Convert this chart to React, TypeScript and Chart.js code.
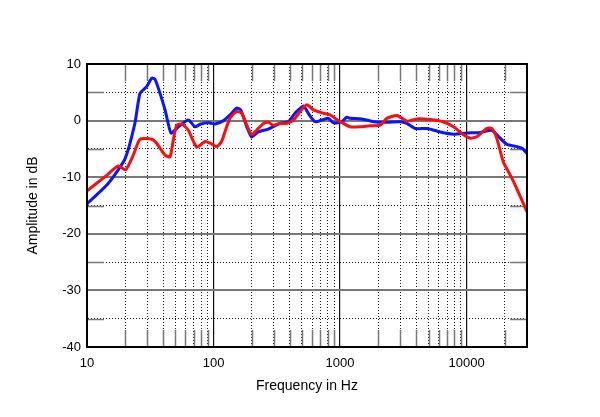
import React, { useEffect, useRef } from 'react';
import { Chart, registerables } from 'chart.js';

Chart.register(...registerables);

// Red curve (frequency in Hz, amplitude in dB)
const redFreq = [10, 13.9, 17.7, 20.2, 23.2, 26.2, 32.5, 35.5, 41.4, 45.3, 48.1, 51.2, 56.1, 63.2, 73.6, 85.7, 94, 106, 115.7, 123, 135, 152, 167, 183, 200, 219, 248, 271, 297, 335, 378, 428, 483, 546, 615, 738, 834, 940, 1065, 1200, 1440, 1720, 2080, 2340, 2810, 3370, 4040, 5140, 6520, 7880, 9460, 10700, 12100, 14400, 15800, 17300, 19500, 22100, 24900, 30000];
const redDb = [-12.4, -9.9, -8.0, -8.7, -6.1, -3.3, -3.3, -4.0, -6.1, -6.4, -3.4, -0.8, -0.6, -1.7, -4.7, -3.7, -4.0, -4.6, -3.7, -2.0, 0.4, 1.6, 1.3, -0.8, -2.5, -1.7, -0.5, -0.3, -0.8, -0.5, -0.5, 0.1, 1.6, 2.8, 1.9, 1.3, 1.0, 0.2, -0.5, -1.1, -1.1, -0.9, -0.8, 0.4, 0.9, -0.1, 0.3, 0.2, -0.2, -1.1, -2.5, -3.1, -2.8, -1.4, -1.4, -3.1, -7.3, -9.6, -12.0, -16.1];

// Blue curve
const blueFreq = [10, 14.7, 20, 23.9, 26.2, 29.6, 32.5, 34.5, 41.4, 46.1, 52.7, 63.2, 71.4, 78.3, 91, 103, 120, 135, 152, 164, 183, 200, 226, 271, 335, 390, 440, 513, 560, 634, 738, 809, 887, 1032, 1130, 1200, 1485, 1835, 2340, 2980, 3370, 3920, 4860, 6180, 7880, 10000, 12800, 15800, 18400, 20800, 24900, 27400, 30000];
const blueDb = [-14.7, -11.1, -6.7, -0.5, 4.8, 6.0, 7.5, 7.3, 1.9, -2.2, -1.1, 0.1, -1.1, -0.65, -0.4, -0.6, 0.0, 1.0, 2.2, 1.9, -1.1, -2.9, -2.0, -1.5, -0.5, -0.2, 1.3, 2.6, 1.3, -0.2, 0.2, 0.4, -0.4, -0.2, 0.6, 0.4, 0.3, -0.2, -0.3, -0.2, -0.5, -1.4, -1.4, -2.0, -2.4, -2.2, -2.1, -1.7, -3.1, -4.2, -4.6, -4.9, -5.8];

const xTicks = [10, 20, 30, 40, 50, 60, 70, 80, 90, 100, 200, 300, 400, 500, 600, 700, 800, 900, 1000, 2000, 3000, 4000, 5000, 6000, 7000, 8000, 9000, 10000, 20000, 30000];
const xLabels = [10, 100, 1000, 10000];
const yTicks = [-40, -35, -30, -25, -20, -15, -10, -5, 0, 5, 10];
const yLabels = [-40, -30, -20, -10, 0, 10];

const X_MIN = 10;
const X_MAX = 30000;
const Y_MIN = -40;
const Y_MAX = 10;

const FONT = "'Liberation Sans', Arial, Helvetica, sans-serif";

const isDecade = (v: number) => Number.isInteger(Math.log10(v));
const isEdgeX = (v: number) => v === X_MIN || v === X_MAX;
const isEdgeY = (v: number) => v === Y_MIN || v === Y_MAX;

const framePlugin = {
  id: 'frameAndEnds',
  beforeDatasetsDraw(chart: any) {
    const { ctx, chartArea: a, scales } = chart;
    const L = 17;
    ctx.save();
    ctx.strokeStyle = '#777';
    ctx.lineWidth = 1.5;
    ctx.setLineDash([]);
    xTicks.forEach((v) => {
      if (isDecade(v) || isEdgeX(v)) return;
      const px = Math.round(scales.x.getPixelForValue(v)) + 0.5;
      ctx.beginPath();
      ctx.moveTo(px, a.top);
      ctx.lineTo(px, a.top + L);
      ctx.moveTo(px, a.bottom - L);
      ctx.lineTo(px, a.bottom);
      ctx.stroke();
    });
    yTicks.forEach((v) => {
      if (v % 10 === 0 || isEdgeY(v)) return;
      const py = Math.round(scales.y.getPixelForValue(v)) + 0.5;
      ctx.beginPath();
      ctx.moveTo(a.left, py);
      ctx.lineTo(a.left + L, py);
      ctx.moveTo(a.right - L, py);
      ctx.lineTo(a.right, py);
      ctx.stroke();
    });
    ctx.restore();
  },
  afterDraw(chart: any) {
    const { ctx, chartArea: a } = chart;
    ctx.save();
    ctx.strokeStyle = '#000';
    ctx.lineWidth = 2;
    ctx.setLineDash([]);
    ctx.strokeRect(a.left, a.top, a.right - a.left, a.bottom - a.top);
    ctx.restore();
  },
};

export default function App() {
  const canvasRef = useRef<HTMLCanvasElement | null>(null);

  useEffect(() => {
    const canvas = canvasRef.current;
    if (!canvas) return;
    const chart = new Chart(canvas, {
      type: 'line',
      data: {
        datasets: [
          {
            label: 'red',
            data: redFreq.map((f, i) => ({ x: f, y: redDb[i] })),
            borderColor: '#ff0d0d',
            borderWidth: 3,
            pointRadius: 0,
            tension: 0.2,
            fill: false,
          },
          {
            label: 'blue',
            data: blueFreq.map((f, i) => ({ x: f, y: blueDb[i] })),
            borderColor: '#0a14ff',
            borderWidth: 3,
            pointRadius: 0,
            tension: 0.2,
            fill: false,
          },
        ],
      },
      options: {
        responsive: false,
        animation: false,
        layout: { padding: { left: 0, right: 73, top: 64, bottom: 0 } },
        plugins: {
          legend: { display: false },
          tooltip: { enabled: false },
        },
        scales: {
          x: {
            type: 'logarithmic',
            min: X_MIN,
            max: X_MAX,
            afterBuildTicks: (scale: any) => {
              scale.ticks = xTicks.map((v) => ({ value: v }));
            },
            afterFit: (scale: any) => {
              scale.height = 70;
            },
            ticks: {
              autoSkip: false,
              maxRotation: 0,
              minRotation: 0,
              padding: 9,
              color: '#000',
              font: { family: FONT, size: 13 },
              callback: (v: any) => (xLabels.includes(Number(v)) ? String(v) : ''),
            },
            grid: {
              drawTicks: false,
              color: (ctx: any) => {
                const v = ctx.tick ? ctx.tick.value : 0;
                if (isEdgeX(v)) return 'rgba(0,0,0,0)';
                return isDecade(v) ? '#111' : '#222';
              },
              lineWidth: (ctx: any) => {
                const v = ctx.tick ? ctx.tick.value : 0;
                return isDecade(v) ? 1.2 : 1;
              },
            },
            border: {
              display: true,
              color: '#000',
              width: 2,
              dash: (ctx: any) => (ctx.tick && !isDecade(ctx.tick.value) ? [1, 2] : []),
            },
            title: {
              display: true,
              text: 'Frequency in Hz',
              color: '#000',
              font: { family: FONT, size: 14 },
              padding: { top: 0, bottom: 22 },
            },
          },
          y: {
            type: 'linear',
            min: Y_MIN,
            max: Y_MAX,
            afterBuildTicks: (scale: any) => {
              scale.ticks = yTicks.map((v) => ({ value: v }));
            },
            afterFit: (scale: any) => {
              scale.width = 87;
            },
            ticks: {
              padding: 6,
              color: '#000',
              font: { family: FONT, size: 13 },
              callback: (v: any) => (yLabels.includes(Number(v)) ? String(v) : ''),
            },
            grid: {
              drawTicks: false,
              color: (ctx: any) => {
                const v = ctx.tick ? ctx.tick.value : 0;
                if (isEdgeY(v)) return 'rgba(0,0,0,0)';
                return v % 10 === 0 ? '#777' : '#222';
              },
              lineWidth: (ctx: any) => {
                const v = ctx.tick ? ctx.tick.value : 0;
                return v % 10 === 0 ? 2 : 1;
              },
            },
            border: {
              display: true,
              color: '#000',
              width: 2,
              dash: (ctx: any) => (ctx.tick && ctx.tick.value % 10 !== 0 ? [1, 2] : []),
            },
            title: {
              display: true,
              text: 'Amplitude in dB',
              color: '#000',
              font: { family: FONT, size: 14 },
              padding: { top: 25, bottom: 0 },
            },
          },
        },
      },
      plugins: [framePlugin],
    } as any);
    return () => chart.destroy();
  }, []);

  return (
    <div style={{ position: 'absolute', left: 0, top: 0, width: 600, height: 417, background: '#fff' }}>
      <canvas ref={canvasRef} width={600} height={417} style={{ width: 600, height: 417, display: 'block' }} />
    </div>
  );
}
